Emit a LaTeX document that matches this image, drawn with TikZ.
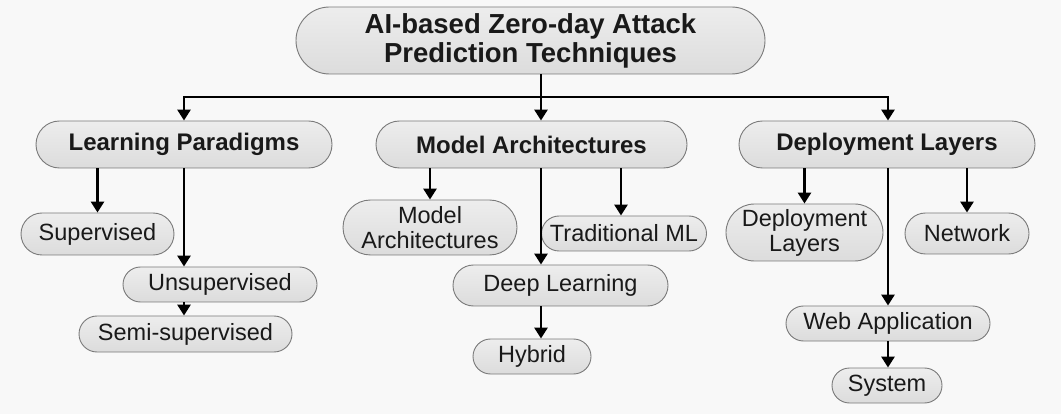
\documentclass[tikz,border=0pt]{standalone}
\usepackage{fontspec}
\setmainfont{Liberation Sans}
\usetikzlibrary{shapes.misc,arrows.meta}
\definecolor{bg}{HTML}{F8F8F8}
\definecolor{boxtop}{HTML}{EDEDED}
\definecolor{boxbot}{HTML}{DCDCDC}
\definecolor{boxline}{HTML}{7A7A7A}
\tikzset{
  pill/.style={shape=rounded rectangle, draw=boxline, line width=0.9pt,
    top color=boxtop, bottom color=boxbot, inner sep=0pt, align=center,
    text=black!90},
  rootbox/.style={pill, font=\bfseries\fontsize{27.5}{29}\selectfont},
  catbox/.style={pill, font=\bfseries\fontsize{24}{26}\selectfont},
  leafbox/.style={pill, font=\fontsize{23.5}{25}\selectfont},
  arr/.style={line width=2.8pt, -{Triangle[length=11pt,width=13pt]}},
  wire/.style={line width=2.8pt}
}
\begin{document}
\begin{tikzpicture}[x=1pt,y=-1pt]
\fill[bg] (0,0) rectangle (1061,414);
\useasboundingbox (0,0) rectangle (1061,414);

% root and the three categories
\node[rootbox, minimum width=469pt, minimum height=67pt] (root) at (530.5,40.5)
  {AI-based Zero-day Attack\\Prediction Techniques};
\node[catbox, minimum width=296pt, minimum height=47pt] (lp) at (184,144.5) {Learning Paradigms};
\node[catbox, minimum width=311pt, minimum height=47pt] (ma) at (531.5,144.5) {Model Architectures};
\node[catbox, minimum width=296pt, minimum height=47pt] (dl) at (887,144.5) {Deployment Layers};

% learning paradigms
\node[leafbox, minimum width=153pt, minimum height=42pt] (sup) at (97.5,234) {Supervised};
\node[leafbox, minimum width=194pt, minimum height=35pt] (unsup) at (220,284.5) {Unsupervised};
\node[leafbox, minimum width=213pt, minimum height=36pt] (semi) at (185.5,334) {Semi-supervised};

% model architectures
\node[leafbox, minimum width=174pt, minimum height=55pt] (ma2) at (430,227.5) {Model\\Architectures};
\node[leafbox, minimum width=165pt, minimum height=35pt] (trad) at (624,233.5) {Traditional ML};
\node[leafbox, minimum width=215pt, minimum height=41pt] (deep) at (560.5,285.5) {Deep Learning};
\node[leafbox, minimum width=118pt, minimum height=35pt] (hyb) at (532,356.5) {Hybrid};

% deployment layers
\node[leafbox, minimum width=157pt, minimum height=57pt] (dl2) at (804.5,232.5) {Deployment\\Layers};
\node[leafbox, minimum width=124pt, minimum height=41pt] (net) at (967,233.5) {Network};
\node[leafbox, minimum width=204pt, minimum height=35pt] (web) at (888,323.5) {Web Application};
\node[leafbox, minimum width=110pt, minimum height=35pt] (sys) at (887,385.5) {System};

% trunk from the root to the categories
\coordinate (j) at (541,97);
\draw[wire] (root.south -| j) -- (j);
\draw[arr] (j) -- (ma.north -| j);
\draw[arr, rounded corners=0pt] (j) -| (lp.north);
\draw[arr] (j) -| (dl.north -| web.north);

% learning paradigm branches
\draw[arr] (lp.south -| sup.north) -- (sup.north);
\draw[arr] (lp.south) -- (lp.south |- unsup.north);
\draw[arr] (unsup.south -| lp.south) -- (semi.north -| lp.south);

% model architecture branches
\draw[arr] (ma.south -| ma2.north) -- (ma2.north);
\draw[arr] (ma.south -| j) -- (deep.north -| j);
\draw[arr] (deep.south -| j) -- (hyb.north -| j);
\draw[arr] (ma.south -| 621,0) -- (trad.north -| 621,0);

% deployment layer branches
\draw[arr] (dl.south -| dl2.north) -- (dl2.north);
\draw[arr] (dl.south -| web.north) -- (web.north);
\draw[arr] (web.south) -- (sys.north -| web.south);
\draw[arr] (dl.south -| net.north) -- (net.north);
\end{tikzpicture}
\end{document}
